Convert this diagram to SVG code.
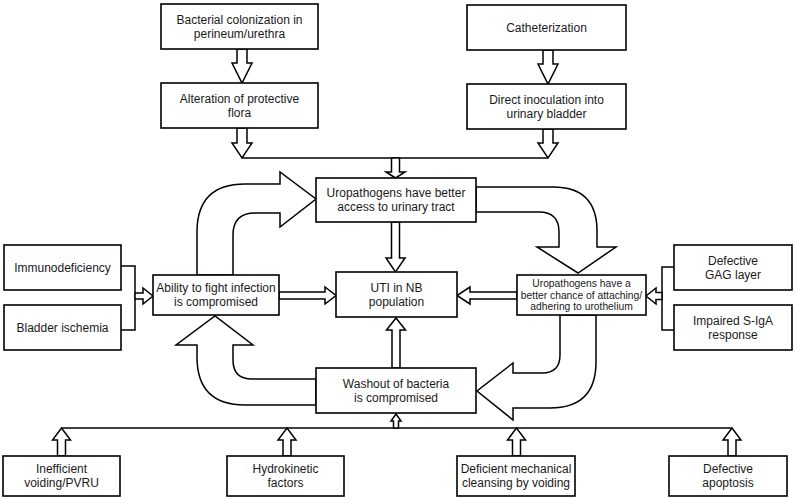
<svg xmlns="http://www.w3.org/2000/svg" width="797" height="500" viewBox="0 0 797 500">
<style>
.box{fill:#fff;stroke:#000;stroke-width:1.6}
.arr{fill:#fff;stroke:#000;stroke-width:1.5;stroke-linejoin:miter}
.ln{fill:none;stroke:#000;stroke-width:1.5}
text{font-family:"Liberation Sans",Arial,sans-serif;font-size:12px;fill:#1a1a1a;text-anchor:middle;dominant-baseline:central}
.sm{font-size:10.3px}
</style>
<rect width="797" height="500" fill="#fff"/>
<g id="connectors">
<path class="arr" d="M237,49 V63 H232 L242,83 L252,63 H247 V49 Z"/>
<path class="arr" d="M543,50 V64 H538 L548,84 L558,64 H553 V50 Z"/>
<path class="arr" d="M237,128 V143 H232 L242,158 L252,143 H247 V128 Z"/>
<path class="arr" d="M543,129 V143 H538 L548,158 L558,143 H553 V129 Z"/>
<path class="ln" d="M242,158 H548"/>
<path class="arr" d="M391.5,158 V172 H386 L395.5,178 L405,172 H399.5 V158 Z"/>
<path class="arr" d="M391.5,222 V258 H386 L395.5,272 L405,258 H399.5 V222 Z"/>
<path class="arr" d="M392,368 V330 H386.5 L396,318 L405.5,330 H400 V368 Z"/>
<path class="ln" d="M121,266 H135 V330 H121"/>
<path class="arr" d="M135,293 H143 V288 L153,296 L143,304 V299 H135 Z"/>
<path class="arr" d="M279,292 H325 V287 L336,295.5 L325,304 V299 H279 Z"/>
<path class="arr" d="M517,292 H470 V287 L457,295.5 L470,304 V299 H517 Z"/>
<path class="ln" d="M674,267 H662 V330 H674"/>
<path class="arr" d="M662,292.5 H656 V288 L646,296 L656,304 V299.5 H662 Z"/>
<path class="arr" d="M197,275 V232 Q197,184 245,184 H280 V172 L316,199 L280,227 V213 H255 Q233,213 233,235 V275 Z"/>
<path class="arr" d="M476,187 H553 Q597,187 597,231 V247 H616 L578,273 L537,247 H559 V232 Q559,212 539,212 H476 Z"/>
<path class="arr" d="M560,315 V355 Q560,373 542,373 H513 V363 L477,391 L513,420 V408 H550 Q596,408 596,362 V315 Z"/>
<path class="arr" d="M316,379 H252 Q233,379 233,360 V345 H253 L215,316 L176,345 H197 V357 Q197,405 245,405 H316 Z"/>
<path class="ln" d="M61.5,428 H732"/>
<path class="arr" d="M393.5,428 V421 H391 L396,414 L401,421 H398.5 V428 Z"/>
<path class="arr" d="M57.5,456 V440 H52.5 L61.5,428 L70.5,440 H65.5 V456 Z"/>
<path class="arr" d="M283,456 V440 H278 L287,428 L296,440 H291 V456 Z"/>
<path class="arr" d="M512.5,456 V440 H507.5 L516.5,428 L525.5,440 H520.5 V456 Z"/>
<path class="arr" d="M728,456 V440 H723 L732,428 L741,440 H736 V456 Z"/>
</g>
<g id="bacterial">
<rect class="box" x="161" y="4" width="157" height="45"/>
<text x="239.5" y="19.5">Bacterial colonization in</text>
<text x="239.5" y="33.5">perineum/urethra</text>
</g>
<g id="catheterization">
<rect class="box" x="467" y="5" width="159" height="45"/>
<text x="546.5" y="27.5">Catheterization</text>
</g>
<g id="alteration">
<rect class="box" x="161" y="83" width="157" height="45"/>
<text x="239.5" y="98.5">Alteration of protective</text>
<text x="239.5" y="112.5">flora</text>
</g>
<g id="inoculation">
<rect class="box" x="467" y="84" width="159" height="45"/>
<text x="546.5" y="99.5">Direct inoculation into</text>
<text x="546.5" y="113.5">urinary bladder</text>
</g>
<g id="access">
<rect class="box" x="316" y="178" width="160" height="44"/>
<text x="396" y="193">Uropathogens have better</text>
<text x="396" y="207">access to urinary tract</text>
</g>
<g id="immunodeficiency">
<rect class="box" x="4" y="245" width="117" height="45"/>
<text x="62.5" y="267.5">Immunodeficiency</text>
</g>
<g id="ischemia">
<rect class="box" x="4" y="305" width="117" height="45"/>
<text x="62.5" y="327.5">Bladder ischemia</text>
</g>
<g id="ability">
<rect class="box" x="153" y="275" width="126" height="40"/>
<text x="216" y="288">Ability to fight infection</text>
<text x="216" y="302">is compromised</text>
</g>
<g id="uti">
<rect class="box" x="336" y="272" width="121" height="45"/>
<text x="396.5" y="287.5">UTI in NB</text>
<text x="396.5" y="301.5">population</text>
</g>
<g id="adhering">
<rect class="box" x="517" y="275" width="129" height="40"/>
<text class="sm" x="581.5" y="283.5">Uropathogens have a</text>
<text class="sm" x="581.5" y="295">better chance of attaching/</text>
<text class="sm" x="581.5" y="306.5">adhering to urothelium</text>
</g>
<g id="gag">
<rect class="box" x="674" y="245" width="118" height="45"/>
<text x="733" y="260.5">Defective</text>
<text x="733" y="274.5">GAG layer</text>
</g>
<g id="sIgA">
<rect class="box" x="674" y="305" width="118" height="45"/>
<text x="733" y="320.5">Impaired S-IgA</text>
<text x="733" y="334.5">response</text>
</g>
<g id="washout">
<rect class="box" x="316" y="368" width="160" height="45"/>
<text x="396" y="383.5">Washout of bacteria</text>
<text x="396" y="397.5">is compromised</text>
</g>
<g id="voiding">
<rect class="box" x="3" y="456" width="117" height="40"/>
<text x="61.5" y="469">Inefficient</text>
<text x="61.5" y="483">voiding/PVRU</text>
</g>
<g id="hydrokinetic">
<rect class="box" x="227" y="456" width="117" height="40"/>
<text x="285.5" y="469">Hydrokinetic</text>
<text x="285.5" y="483">factors</text>
</g>
<g id="cleansing">
<rect class="box" x="457" y="456" width="118" height="40"/>
<text x="516" y="469">Deficient mechanical</text>
<text x="516" y="483">cleansing by voiding</text>
</g>
<g id="apoptosis">
<rect class="box" x="669" y="456" width="118" height="40"/>
<text x="728" y="469">Defective</text>
<text x="728" y="483">apoptosis</text>
</g>
</svg>
